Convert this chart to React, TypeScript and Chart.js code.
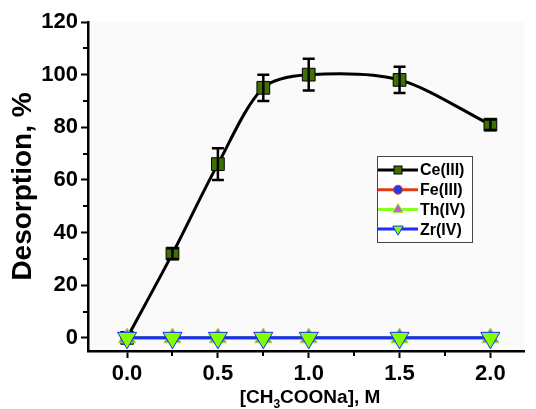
import React, { useEffect, useRef } from "react";
import { Chart, registerables } from "chart.js";

Chart.register(...registerables);

const concentrations = [0, 0.25, 0.5, 0.75, 1.0, 1.5, 2.0];
const ceValues = [0, 32, 66, 95, 100, 98, 81];
const ceErrors = [0, 2, 6, 5, 6, 5, 2];
const feValues = [0, 0, 0, 0, 0, 0, 0];
const thValues = [0, 0, 0, 0, 0, 0, 0];
const zrValues = [0, 0, 0, 0, 0, 0, 0];
const xMajorTicks = [0, 0.5, 1.0, 1.5, 2.0];
const xMinorTicks = [0.25, 0.75, 1.25, 1.75];
const yMajorTicks = [0, 20, 40, 60, 80, 100, 120];
const yMinorTicks = [10, 30, 50, 70, 90, 110];
const seriesNames = ["Ce(III)", "Fe(III)", "Th(IV)", "Zr(IV)"];
const xTitleParts = ["[CH", "3", "COONa], M"];

const FONT = "'Liberation Sans', Arial, sans-serif";

const toPoints = (vals: number[]) => concentrations.map((x, i) => ({ x, y: vals[i] }));

export default function App() {
  const ref = useRef<HTMLCanvasElement | null>(null);
  useEffect(() => {
    document.body.style.margin = "0";
    const canvas = ref.current;
    if (!canvas) return;

    const styles = [
      { line: "#000000", fill: "#3f7000", border: "#000000", shape: "rect", rot: 0 },
      { line: "#e23c14", fill: "#1a3cf0", border: "#e23c14", shape: "circle", rot: 0 },
      { line: "#88ff22", fill: "#d050e0", border: "#88ff22", shape: "triangle", rot: 0 },
      { line: "#1a2cff", fill: "#80ff00", border: "#1a2cff", shape: "triangle", rot: 180 },
    ];

    const extras = {
      id: "extras",
      beforeDraw(chart: any) {
        const { ctx, chartArea } = chart;
        ctx.save();
        ctx.fillStyle = "#fafafa";
        ctx.fillRect(chartArea.left, chartArea.top, chartArea.right - chartArea.left, chartArea.bottom - chartArea.top);
        ctx.restore();
      },
      afterDatasetsDraw(chart: any) {
        const { ctx } = chart;
        const xs = chart.scales.x;
        const ys = chart.scales.y;
        ctx.save();
        ctx.strokeStyle = "#000";
        ctx.lineWidth = 2.5;
        concentrations.forEach((c, i) => {
          const e = ceErrors[i];
          if (!e) return;
          const px = xs.getPixelForValue(c);
          const top = ys.getPixelForValue(ceValues[i] + e);
          const bot = ys.getPixelForValue(ceValues[i] - e);
          ctx.beginPath();
          ctx.moveTo(px, top);
          ctx.lineTo(px, bot);
          ctx.moveTo(px - 6, top);
          ctx.lineTo(px + 6, top);
          ctx.moveTo(px - 6, bot);
          ctx.lineTo(px + 6, bot);
          ctx.stroke();
        });
        ctx.restore();
      },
      afterDraw(chart: any) {
        const { ctx, chartArea } = chart;
        const xs = chart.scales.x;
        const ys = chart.scales.y;
        ctx.save();
        ctx.strokeStyle = "#000";
        ctx.lineWidth = 2;
        ctx.beginPath();
        xMinorTicks.forEach((v) => {
          const px = Math.round(xs.getPixelForValue(v));
          ctx.moveTo(px, chartArea.bottom);
          ctx.lineTo(px, chartArea.bottom + 5);
        });
        yMinorTicks.forEach((v) => {
          const py = Math.round(ys.getPixelForValue(v));
          ctx.moveTo(chartArea.left, py);
          ctx.lineTo(chartArea.left - 5, py);
        });
        ctx.stroke();

        // x-axis title with subscript
        const big = `bold 19px ${FONT}`;
        const small = `bold 12px ${FONT}`;
        ctx.font = big;
        const w0 = ctx.measureText(xTitleParts[0]).width;
        const w2 = ctx.measureText(xTitleParts[2]).width;
        ctx.font = small;
        const w1 = ctx.measureText(xTitleParts[1]).width;
        const total = w0 + w1 + w2;
        let tx = (chartArea.left + chartArea.right) / 2 + 4 - total / 2;
        const base = 403;
        ctx.fillStyle = "#000";
        ctx.textAlign = "left";
        ctx.textBaseline = "alphabetic";
        ctx.font = big;
        ctx.fillText(xTitleParts[0], tx, base);
        tx += w0;
        ctx.font = small;
        ctx.fillText(xTitleParts[1], tx, base + 5);
        tx += w1;
        ctx.font = big;
        ctx.fillText(xTitleParts[2], tx, base);

        // legend
        const bx = 377, by = 156, bw = 95, bh = 86;
        ctx.fillStyle = "#ffffff";
        ctx.fillRect(bx, by, bw, bh);
        ctx.strokeStyle = "#444";
        ctx.lineWidth = 1;
        ctx.strokeRect(bx + 0.5, by + 0.5, bw, bh);
        seriesNames.forEach((name, i) => {
          const s = styles[i];
          const y = 170 + i * 19.7;
          ctx.strokeStyle = s.line;
          ctx.lineWidth = 3;
          ctx.beginPath();
          ctx.moveTo(bx + 1, y);
          ctx.lineTo(bx + 41, y);
          ctx.stroke();
          ctx.fillStyle = s.fill;
          ctx.strokeStyle = s.border;
          ctx.lineWidth = 1;
          const mx = bx + 21;
          if (s.shape === "rect") {
            ctx.fillRect(mx - 4, y - 4, 8, 8);
            ctx.strokeRect(mx - 4, y - 4, 8, 8);
          } else if (s.shape === "circle") {
            ctx.beginPath();
            ctx.arc(mx, y, 4.5, 0, Math.PI * 2);
            ctx.fill();
            ctx.stroke();
          } else {
            const r = 6;
            const dir = s.rot ? -1 : 1;
            ctx.beginPath();
            ctx.moveTo(mx, y - dir * r);
            ctx.lineTo(mx + r * 0.87, y + dir * r * 0.5);
            ctx.lineTo(mx - r * 0.87, y + dir * r * 0.5);
            ctx.closePath();
            ctx.fill();
            ctx.stroke();
          }
          ctx.fillStyle = "#000";
          ctx.font = `bold 16px ${FONT}`;
          ctx.textBaseline = "middle";
          ctx.textAlign = "left";
          ctx.fillText(name, bx + 43, y + 1);
        });
        ctx.restore();
      },
    };

    const allValues = [ceValues, feValues, thValues, zrValues];
    const chart = new Chart(canvas, {
      type: "line",
      data: {
        datasets: allValues.map((vals, i) => {
          const s = styles[i];
          return {
            label: seriesNames[i],
            data: toPoints(vals),
            borderColor: s.line,
            backgroundColor: s.fill,
            pointBorderColor: s.border,
            pointBackgroundColor: s.fill,
            pointStyle: s.shape as any,
            pointRotation: s.rot,
            pointRadius: i === 0 ? 9 : i === 1 ? 6 : i === 2 ? 10 : 11,
            pointBorderWidth: 1,
            borderWidth: 3,
            tension: i === 0 ? 0.3 : 0,
            order: 3 - i,
          } as any;
        }),
      },
      options: {
        responsive: false,
        animation: false,
        layout: { padding: { top: 22, right: 11, left: 0, bottom: 0 } },
        plugins: { legend: { display: false }, tooltip: { enabled: false } },
        scales: {
          x: {
            type: "linear",
            min: -0.215,
            max: 2.185,
            afterBuildTicks: (axis: any) => {
              axis.ticks = xMajorTicks.map((v) => ({ value: v }));
            },
            afterFit: (axis: any) => {
              axis.height = 58;
            },
            ticks: {
              color: "#000",
              font: { family: FONT, size: 22, weight: "bold" },
              padding: 3,
              callback: (v: any) => Number(v).toFixed(1),
            },
            grid: { drawOnChartArea: false, drawTicks: true, tickLength: 7, color: "#000", tickWidth: 2 },
            border: { color: "#000", width: 2.5 },
            title: { display: false },
          },
          y: {
            type: "linear",
            min: -5,
            max: 120,
            afterBuildTicks: (axis: any) => {
              axis.ticks = yMajorTicks.map((v) => ({ value: v }));
            },
            afterFit: (axis: any) => {
              axis.width = 88;
            },
            ticks: {
              color: "#000",
              font: { family: FONT, size: 22, weight: "bold" },
              padding: 3,
            },
            grid: { drawOnChartArea: false, drawTicks: true, tickLength: 7, color: "#000", tickWidth: 2 },
            border: { color: "#000", width: 2.5 },
            title: {
              display: true,
              text: "Desorption, %",
              color: "#000",
              font: { family: FONT, size: 28, weight: "bold" },
              padding: { top: 6, bottom: 0 },
            },
          },
        },
      },
      plugins: [extras],
    });
    return () => chart.destroy();
  }, []);
  return (
    <div style={{ width: 536, height: 409, background: "#fff" }}>
      <canvas ref={ref} width={536} height={409} style={{ width: 536, height: 409, display: "block" }} />
    </div>
  );
}
